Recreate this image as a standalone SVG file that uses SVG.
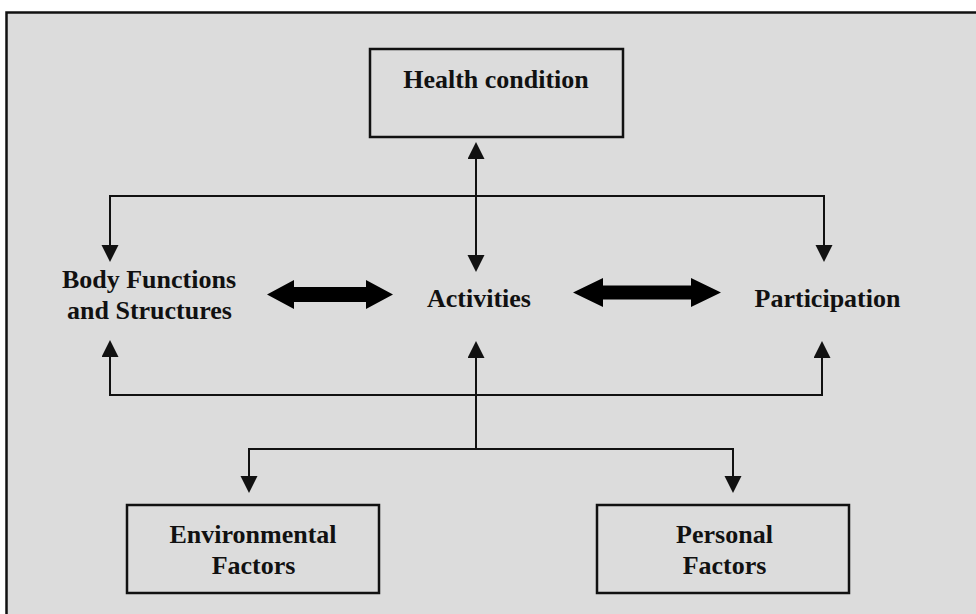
<svg xmlns="http://www.w3.org/2000/svg" width="976" height="614" viewBox="0 0 976 614">
<style>
.box{fill:none;stroke:#111;stroke-width:2.5}
.lbl{font-family:"Liberation Serif","Times New Roman",serif;font-weight:bold;font-size:26px;fill:#111;text-anchor:middle}
.con{fill:none;stroke:#111;stroke-width:2}
.thick{fill:#000}
</style>
<defs>
<marker id="ah" markerUnits="userSpaceOnUse" markerWidth="18" markerHeight="18" refX="15" refY="8.5" orient="auto-start-reverse">
<path d="M0,0 L17,8.5 L0,17 z" fill="#111"/>
</marker>
</defs>
<rect x="0" y="0" width="976" height="614" fill="#fff"/>
<rect x="6.5" y="12.5" width="980" height="610" fill="#dcdcdc" stroke="#111" stroke-width="2.5"/>

<g id="connectors">
<path class="con" d="M476,144 L476,270" marker-start="url(#ah)" marker-end="url(#ah)"/>
<path class="con" d="M110,260 L110,196 L824,196 L824,260" marker-start="url(#ah)" marker-end="url(#ah)"/>
<path class="con" d="M110,342 L110,395 L822,395 L822,343" marker-start="url(#ah)" marker-end="url(#ah)"/>
<path class="con" d="M476,449 L476,343" marker-end="url(#ah)"/>
<path class="con" d="M249,491 L249,449 L733,449 L733,491" marker-start="url(#ah)" marker-end="url(#ah)"/>
<polygon class="thick" points="267,294.5 294,280 294,287 366,287 366,280 393,294.5 366,309 366,302 294,302 294,309"/>
<polygon class="thick" points="573,292.5 603,278 603,285.5 691,285.5 691,278 721,292.5 691,307 691,299.5 603,299.5 603,307"/>
</g>

<g id="health">
<rect class="box" x="370" y="49" width="253" height="88"/>
<text class="lbl" x="496" y="88">Health condition</text>
</g>
<g id="body">
<text class="lbl" x="149" y="288">Body Functions</text>
<text class="lbl" x="149.5" y="319">and Structures</text>
</g>
<g id="activities">
<text class="lbl" x="479" y="306.5">Activities</text>
</g>
<g id="participation">
<text class="lbl" x="827.5" y="306.5">Participation</text>
</g>
<g id="environmental">
<rect class="box" x="127" y="505" width="252" height="88"/>
<text class="lbl" x="253" y="543">Environmental</text>
<text class="lbl" x="253.5" y="574">Factors</text>
</g>
<g id="personal">
<rect class="box" x="597" y="505" width="252" height="88"/>
<text class="lbl" x="724.5" y="543">Personal</text>
<text class="lbl" x="724.5" y="574">Factors</text>
</g>
</svg>
